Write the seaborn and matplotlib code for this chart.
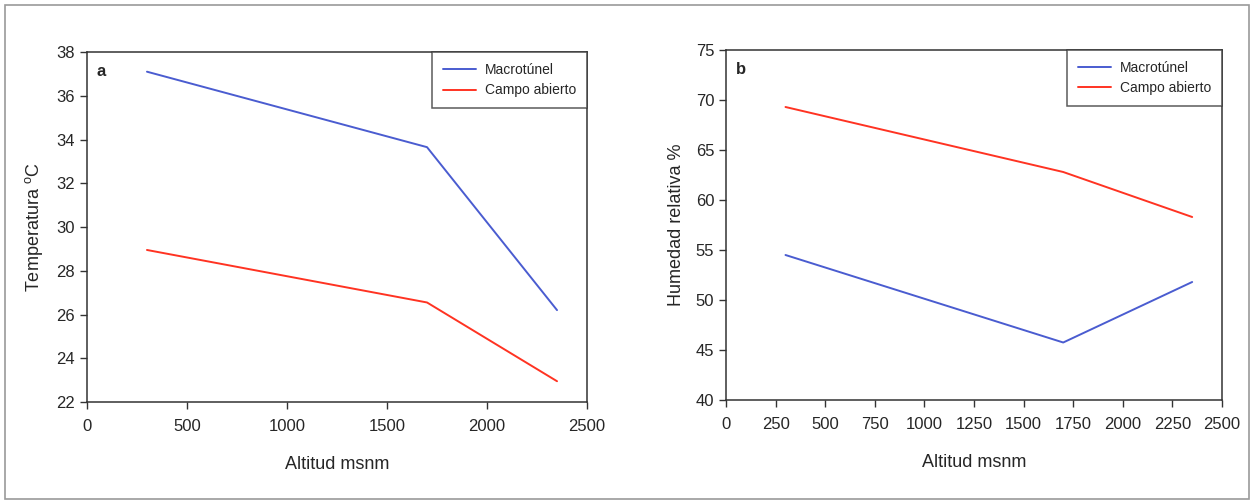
import pandas as pd
import matplotlib.pyplot as plt
from matplotlib.patches import Rectangle
import seaborn as sns

altitud = [300, 1700, 2350]
series = ['Macrotúnel', 'Campo abierto']

temp_macrotunel = [37.1, 33.65, 26.2]
temp_campo = [28.95, 26.55, 22.95]

hum_macrotunel = [54.5, 45.75, 51.8]
hum_campo = [69.3, 62.8, 58.3]

colors = {'Macrotúnel': '#4a5cd0', 'Campo abierto': '#ff3322'}


def build_df(macro, campo):
    return pd.DataFrame({
        'Altitud': altitud * 2,
        'valor': macro + campo,
        'Serie': [series[0]] * len(altitud) + [series[1]] * len(altitud),
    })


sns.set_style('ticks')
plt.rcParams['font.family'] = ['Liberation Sans', 'DejaVu Sans']
plt.rcParams['mathtext.fontset'] = 'custom'
plt.rcParams['mathtext.rm'] = 'Liberation Sans'

fig = plt.figure(figsize=(12.53, 5.01), dpi=100)
ax_a = fig.add_axes([0.0694, 0.1976, 0.3991, 0.6986])
ax_b = fig.add_axes([0.5794, 0.2016, 0.3958, 0.6986])

fig.patches.append(Rectangle((0.004, 0.004), 0.993, 0.986, transform=fig.transFigure,
                             fill=False, edgecolor='#9a9a9a', linewidth=1.2))

panels = [
    (ax_a, build_df(temp_macrotunel, temp_campo), 'Temperatura $^{\\mathrm{o}}$C',
     (22, 38), range(22, 39, 2), range(0, 2501, 500), 'a'),
    (ax_b, build_df(hum_macrotunel, hum_campo), 'Humedad relativa %',
     (40, 75), range(40, 76, 5), range(0, 2501, 250), 'b'),
]

for ax, df, ylabel, ylim, yticks, xticks, tag in panels:
    sns.lineplot(data=df, x='Altitud', y='valor', hue='Serie', hue_order=series,
                 palette=colors, linewidth=1.4, ax=ax)
    ax.set_xlim(0, 2500)
    ax.set_ylim(*ylim)
    ax.set_xticks(list(xticks))
    ax.set_yticks(list(yticks))
    ax.set_xlabel('Altitud msnm', fontsize=13, labelpad=16)
    ax.set_ylabel(ylabel, fontsize=13, labelpad=8)
    ax.tick_params(axis='both', labelsize=12, direction='out', length=5, width=1, color='#333333')
    ax.tick_params(axis='x', pad=7)
    for s in ax.spines.values():
        s.set_linewidth(1.1)
        s.set_color('#333333')
    ax.text(0.02, 0.965, tag, transform=ax.transAxes, fontsize=12, fontweight='bold',
            va='top', ha='left')
    leg = ax.legend(loc='upper right', fontsize=10, frameon=True, fancybox=False,
                    borderaxespad=0, handlelength=2.4, handletextpad=0.6,
                    borderpad=0.8, labelspacing=0.45)
    leg.get_frame().set_edgecolor('#333333')
    leg.get_frame().set_linewidth(1.1)

plt.savefig('out.png', dpi=100)
